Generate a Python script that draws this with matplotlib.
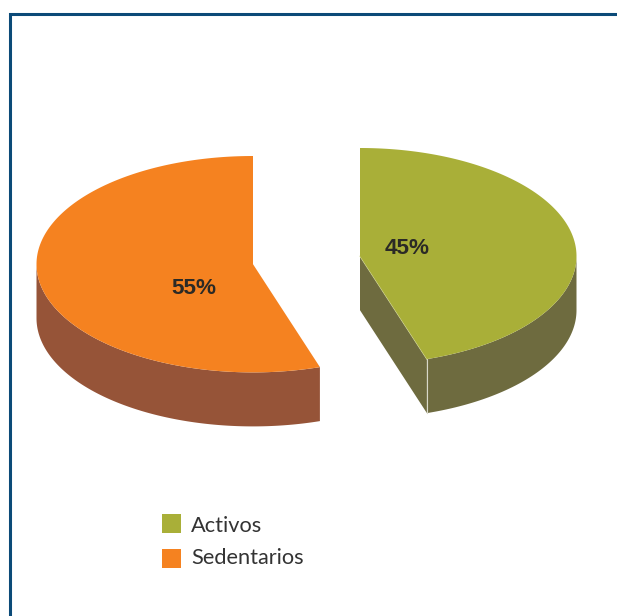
import numpy as np
import matplotlib
matplotlib.use("Agg")
import matplotlib.pyplot as plt
from matplotlib.patches import Polygon, Rectangle

# data
categories = ["Activos", "Sedentarios"]
shares = [45, 55]
pct_labels = ["45%", "55%"]

top_colors = ["#A9AF38", "#F58220"]
side_colors = ["#6E6B3F", "#965438"]

RX, RY, DEPTH = 216.5, 108.2, 54
centers = [(360, 256.2), (253, 264.2)]
label_pos = [(407, 249), (194, 288)]


def rim(cx, cy, a0, a1, n=200):
    # angles in degrees, clockwise from 12 o'clock
    t = np.radians(np.linspace(a0, a1, n))
    return cx + RX * np.sin(t), cy - RY * np.cos(t)


fig = plt.figure(figsize=(6.17, 6.16), dpi=100)
ax = fig.add_axes([0, 0, 1, 1])
ax.set_xlim(0, 617)
ax.set_ylim(616, 0)
ax.axis("off")

# frame round the chart, open at right and bottom
ax.plot([9.7, 9.7, 617], [616, 13.5, 13.5], color="#0B4A78", lw=2.2,
        solid_joinstyle="miter")

start = 0
for i in range(len(shares)):
    sweep = shares[i] * 3.6
    a0, a1 = start, start + sweep
    cx, cy = centers[i]
    x, y = rim(cx, cy, a0, a1)

    # outer wall, only the part facing the viewer
    lo, hi = max(a0, 90), min(a1, 270)
    wx, wy = rim(cx, cy, lo, hi)
    wall = np.r_[np.c_[wx, wy], np.c_[wx, wy + DEPTH][::-1]]
    ax.add_patch(Polygon(wall, closed=True, fc=side_colors[i], ec="none", zorder=2))

    # cut face of the slice on the right
    if i == 0:
        face = [(cx, cy), (x[-1], y[-1]), (x[-1], y[-1] + DEPTH), (cx, cy + DEPTH)]
        ax.add_patch(Polygon(face, closed=True, fc=side_colors[i], ec="none", zorder=2))
        ax.plot([x[-1], x[-1]], [y[-1], y[-1] + DEPTH], color="#D8D8C8", lw=0.8, zorder=3)
        ax.plot([cx, x[-1]], [cy, y[-1]], color="#D8DCA0", lw=0.8, zorder=3)

    # top of the slice
    top = np.r_[[[cx, cy]], np.c_[x, y]]
    ax.add_patch(Polygon(top, closed=True, fc=top_colors[i], ec="none", zorder=4))

    ax.text(label_pos[i][0], label_pos[i][1], pct_labels[i], ha="center", va="center",
            family="Liberation Sans", fontweight="bold", fontsize=16.2, color="#2B2A26", zorder=5)
    start = a1

# legend
leg_y = [523.5, 558.5]
text_y = [526, 558]
for i in range(len(categories)):
    ax.add_patch(Rectangle((162, leg_y[i] - 9.5), 19, 19, fc=top_colors[i], ec="none"))
    ax.text(191, text_y[i], categories[i], ha="left", va="center",
            family="Lato", fontsize=15.7, color="#333333")

fig.savefig("out.png", dpi=100)
plt.close(fig)
